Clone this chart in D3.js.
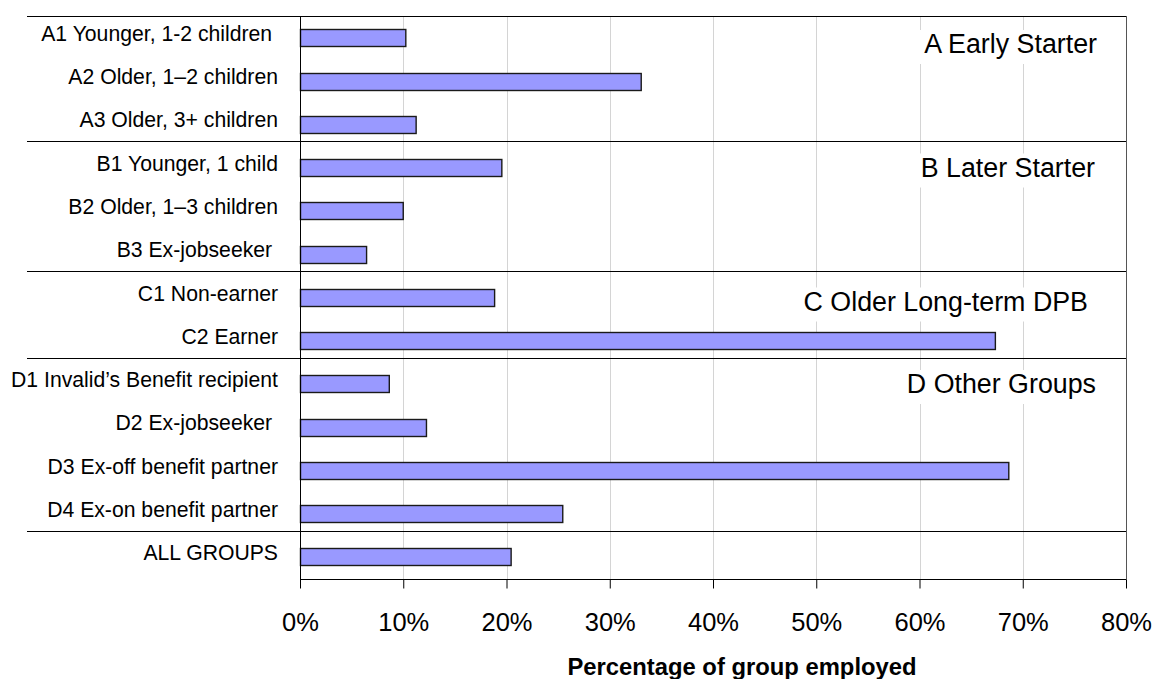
<!DOCTYPE html>
<html>
<head>
<meta charset="utf-8">
<script src="https://cdn.jsdelivr.net/npm/d3@7"></script>
<style>
  body { margin: 0; background: #fff; }
  text { font-family: "Liberation Sans", Arial, sans-serif; fill: #000; }
</style>
</head>
<body>
<div id="chart"></div>
<script>
// data
var categories = [
  "A1 Younger, 1-2 children ", "A2 Older, 1\u20132 children", "A3 Older, 3+ children",
  "B1 Younger, 1 child", "B2 Older, 1\u20133 children", "B3 Ex-jobseeker ",
  "C1 Non-earner", "C2 Earner",
  "D1 Invalid\u2019s Benefit recipient", "D2 Ex-jobseeker ", "D3 Ex-off benefit partner", "D4 Ex-on benefit partner",
  "ALL GROUPS"
];
var employed = [10.2, 33.0, 11.2, 19.5, 9.95, 6.4, 18.8, 67.3, 8.6, 12.2, 68.6, 25.4, 20.4];
var groupNames = ["A Early Starter", "B Later Starter", "C Older Long-term DPB", "D Other Groups", ""];
var groupStarts = [0, 3, 6, 8, 12];
var tickValues = [0, 10, 20, 30, 40, 50, 60, 70, 80];
var axisTitle = "Percentage of group employed";

// layout
var W = 1153, H = 679;
var plotL = 300, plotR = 1126, plotT = 16, plotB = 579, lineLeft = 27;
// where each group caption sits (right edge, baseline below its separator)
var captionRight = [1097, 1095, 1088, 1096];
var captionDrop = [37, 35.5, 39.5, 35];

var svg = d3.select("#chart").append("svg")
    .attr("width", W)
    .attr("height", H);

var x = d3.scaleLinear().domain([0, 80]).range([plotL, plotR]);
var y = d3.scaleBand().domain(categories).range([plotT, plotB])
    .paddingInner(0.6).paddingOuter(0.307);

// vertical gridlines
svg.append("g").selectAll("line")
  .data(tickValues.slice(1, -1))
  .enter().append("line")
    .attr("x1", function(d) { return Math.round(x(d)) + 0.5; })
    .attr("x2", function(d) { return Math.round(x(d)) + 0.5; })
    .attr("y1", plotT).attr("y2", plotB)
    .attr("stroke", "#d4d4d4").attr("stroke-width", 1);

// separators between groups (first one is the top border)
var sepY = groupStarts.map(function(s, i) {
  return i == 0 ? plotT : Math.round(y(categories[s]) - 17.7);
});
svg.append("g").selectAll("line")
  .data(sepY)
  .enter().append("line")
    .attr("x1", lineLeft).attr("x2", plotR)
    .attr("y1", function(d) { return d + 0.5; })
    .attr("y2", function(d) { return d + 0.5; })
    .attr("stroke", "#000").attr("stroke-width", 1);

// right border
svg.append("line")
    .attr("x1", plotR + 0.5).attr("x2", plotR + 0.5)
    .attr("y1", plotT).attr("y2", plotB)
    .attr("stroke", "#555");

// group captions on white boxes
var caps = svg.append("g");
groupNames.slice(0, 4).forEach(function(name, i) {
  var t = caps.append("text")
      .attr("x", captionRight[i])
      .attr("y", sepY[i] + captionDrop[i])
      .attr("text-anchor", "end")
      .style("font-size", "26.8px")
      .text(name);
  var b = t.node().getBBox();
  caps.insert("rect", "text")
      .attr("x", b.x - 6).attr("y", b.y + 1)
      .attr("width", b.width + 12).attr("height", b.height + 4)
      .attr("fill", "#fff");
});

// bars
svg.append("g").selectAll("rect")
  .data(employed)
  .enter().append("rect")
    .attr("x", x(0) + 0.5)
    .attr("y", function(d, i) { return Math.round(y(categories[i])) + 0.5; })
    .attr("width", function(d) { return x(d) - x(0); })
    .attr("height", Math.round(y.bandwidth()))
    .attr("fill", "#9999ff")
    .attr("stroke", "#1a1a1a")
    .attr("stroke-width", 1.4);

// category labels
svg.append("g").selectAll("text")
  .data(categories)
  .enter().append("text")
    .attr("x", 278)
    .attr("y", function(d) { return y(d) + y.bandwidth() / 2 + 3; })
    .attr("text-anchor", "end")
    .style("font-size", "21.2px")
    .style("white-space", "pre")
    .text(function(d) { return d; });

// x axis
var xAxis = svg.append("g")
    .attr("transform", "translate(0," + (plotB + 0.5) + ")")
    .call(d3.axisBottom(x).tickValues(tickValues).tickSize(9).tickPadding(24)
      .tickFormat(function(d) { return d + "%"; }));
xAxis.select(".domain").attr("stroke", "#000").attr("d", "M" + plotL + ",0H" + (plotR + 0.5));
xAxis.selectAll(".tick line").attr("stroke", "#000");
xAxis.selectAll(".tick text")
    .attr("font-family", null)
    .style("font-size", "25.5px")
    .attr("fill", "#000");

// y axis line
svg.append("line")
    .attr("x1", plotL + 0.5).attr("x2", plotL + 0.5)
    .attr("y1", plotT).attr("y2", plotB + 9)
    .attr("stroke", "#000");

svg.append("text")
    .attr("x", 742)
    .attr("y", 675)
    .attr("text-anchor", "middle")
    .style("font-size", "23.8px")
    .style("font-weight", "bold")
    .text(axisTitle);
</script>
</body>
</html>
